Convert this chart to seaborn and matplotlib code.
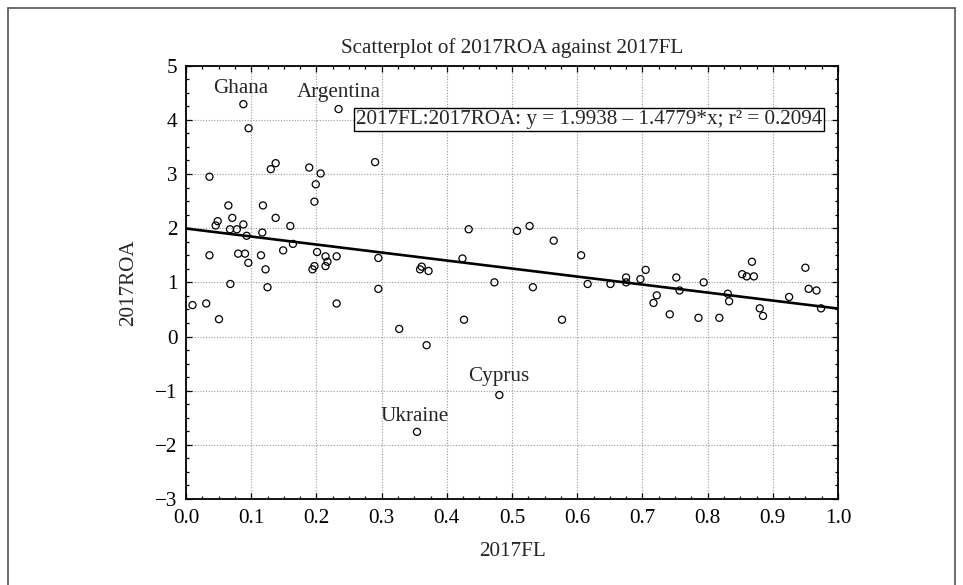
import matplotlib
matplotlib.use("Agg")
import matplotlib.pyplot as plt
import seaborn as sns
import numpy as np
import pandas as pd
from matplotlib.ticker import MultipleLocator, FormatStrFormatter
from matplotlib.lines import Line2D

# Data
fl = [0.088, 0.096, 0.234, 0.036, 0.1375, 0.130, 0.189, 0.2065, 0.199, 0.197,
      0.290, 0.065, 0.118, 0.1375, 0.160, 0.071, 0.0486, 0.0455, 0.088, 0.0675,
      0.078, 0.117, 0.093, 0.164, 0.149, 0.036, 0.080, 0.0905, 0.115, 0.0956,
      0.122, 0.068, 0.125, 0.031, 0.010, 0.0506, 0.197, 0.194, 0.201, 0.214,
      0.217, 0.214, 0.231, 0.231, 0.295, 0.295, 0.327,
      0.4336, 0.5077, 0.527, 0.564, 0.606, 0.424, 0.3615, 0.359, 0.372, 0.473,
      0.532, 0.616, 0.651, 0.4264, 0.5767, 0.369, 0.4806, 0.3543,
      0.675, 0.675, 0.697, 0.705, 0.722, 0.717, 0.752, 0.757, 0.742, 0.786,
      0.794, 0.818, 0.831, 0.833, 0.853, 0.860, 0.871, 0.868, 0.880, 0.885,
      0.925, 0.950, 0.955, 0.967, 0.974]
roa = [4.29, 3.845, 4.20, 2.95, 3.20, 3.09, 3.12, 3.01, 2.81, 2.49,
       3.22, 2.42, 2.42, 2.19, 2.04, 2.19, 2.13, 2.05, 2.07, 1.98,
       1.98, 1.92, 1.86, 1.71, 1.59, 1.50, 1.53, 1.53, 1.50, 1.36,
       1.24, 0.97, 0.91, 0.61, 0.58, 0.32, 1.30, 1.24, 1.56, 1.48,
       1.38, 1.30, 1.48, 0.61, 1.45, 0.88, 0.14,
       1.98, 1.95, 2.04, 1.77, 1.50, 1.44, 1.29, 1.24, 1.21, 1.00,
       0.91, 0.97, 0.97, 0.31, 0.31, -0.16, -1.08, -1.76,
       1.09, 1.00, 1.06, 1.23, 0.76, 0.62, 1.09, 0.85, 0.41, 0.345,
       1.00, 0.345, 0.79, 0.65, 1.15, 1.11, 1.11, 1.38, 0.52, 0.38,
       0.73, 1.27, 0.88, 0.85, 0.52]

label_names = ["Ghana", "Argentina", "Cyprus", "Ukraine"]
label_x = [0.084, 0.234, 0.480, 0.351]
label_y = [4.58, 4.50, -0.74, -1.48]

intercept = 1.9938
slope = -1.4779
r2 = 0.2094

x_ticks = [0.0, 0.1, 0.2, 0.3, 0.4, 0.5, 0.6, 0.7, 0.8, 0.9, 1.0]
y_ticks = [-3, -2, -1, 0, 1, 2, 3, 4, 5]

df = pd.DataFrame({"2017FL": fl, "2017ROA": roa})

FS = 15.2
sns.set_style("ticks")
plt.rcParams["font.family"] = ["Liberation Serif", "DejaVu Serif"]
plt.rcParams["font.size"] = FS
plt.rcParams["axes.unicode_minus"] = True

fig = plt.figure(figsize=(9.63, 5.85), dpi=100)
ax = fig.add_axes([186 / 963, 1 - 499 / 585, (838 - 186) / 963, (499 - 65.7) / 585])

ax.grid(True, which="major", linestyle=(0, (1, 1.5)), color="#9a9a9a", linewidth=0.8)
ax.set_axisbelow(True)

sns.scatterplot(data=df, x="2017FL", y="2017ROA", ax=ax, s=26,
                facecolors="none", edgecolor="black", linewidth=0.9, zorder=3)

xs = np.array([0.0, 1.0])
ax.plot(xs, intercept + slope * xs, color="black", linewidth=1.9, zorder=4)

for name, lx, ly in zip(label_names, label_x, label_y):
    ax.text(lx, ly, name, ha="center", va="center", fontsize=FS, zorder=5)

ax.text(0.976, 4.0, "2017FL:2017ROA: y = 1.9938 \u2013 1.4779*x; r\u00b2 = 0.2094",
        ha="right", va="center", fontsize=FS, zorder=6,
        bbox=dict(boxstyle="square,pad=0.1", facecolor="white", edgecolor="black", linewidth=1.0))

ax.set_xlim(0, 1)
ax.set_ylim(-3, 5)
ax.set_xticks(x_ticks)
ax.set_yticks(y_ticks)
ax.xaxis.set_major_formatter(FormatStrFormatter("%.1f"))
ax.xaxis.set_minor_locator(MultipleLocator(0.025))
ax.yaxis.set_minor_locator(MultipleLocator(0.25))
ax.tick_params(which="both", direction="in", top=True, right=True, colors="black",
               labelsize=FS, width=0.9)
ax.tick_params(which="major", length=4, pad=6)
ax.tick_params(axis="x", which="major", pad=7.5)
ax.tick_params(which="minor", length=2.5)
for sp in ax.spines.values():
    sp.set_visible(True)
    sp.set_color("black")
    sp.set_linewidth(1.3)

ax.set_xlabel("2017FL", fontsize=FS, labelpad=9.5)
ax.set_ylabel("2017ROA", fontsize=FS, labelpad=12)
ax.set_title("Scatterplot of 2017ROA against 2017FL", fontsize=FS, pad=9)

# outer frame of the figure (left, top, right)
fx0, fx1, fy1 = 7.5 / 963, 955 / 963, 1 - 8 / 585
for xd, yd in [([fx0, fx0], [0, fy1]), ([fx0, fx1], [fy1, fy1]), ([fx1, fx1], [fy1, 0])]:
    fig.add_artist(Line2D(xd, yd, transform=fig.transFigure, color="#555555", linewidth=1.2))

fig.savefig("out.png", dpi=100, facecolor="white")
